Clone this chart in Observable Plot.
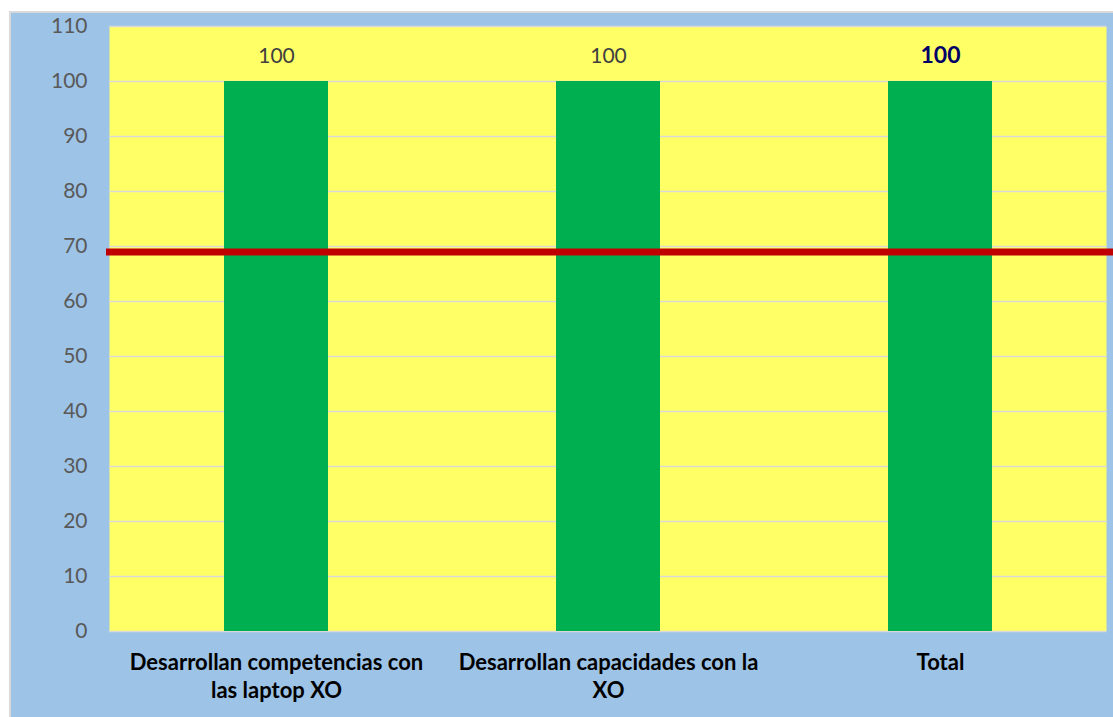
<!DOCTYPE html>
<html>
<head>
<meta charset="utf-8">
<script src="https://cdn.jsdelivr.net/npm/d3@7"></script>
<script src="https://cdn.jsdelivr.net/npm/@observablehq/plot@0.6"></script>
<style>
  html, body { margin: 0; padding: 0; background: #ffffff; }
  #wrap { position: relative; width: 1113px; height: 717px; overflow: hidden; }
  #bg { position: absolute; left: 9px; top: 11px; width: 1110px; height: 710px;
        background: #9dc3e6; border: 2px solid #d9d9d9; box-sizing: border-box; }
  #chart { position: absolute; left: 0; top: 0; }
</style>
</head>
<body>
<div id="wrap"><div id="bg"></div><div id="chart"></div></div>
<script>
const categories = [
  "Desarrollan competencias con las laptop XO",
  "Desarrollan capacidades con la XO",
  "Total"
];
const axisLabels = [
  "Desarrollan competencias con\nlas laptop XO",
  "Desarrollan capacidades con la\nXO",
  "Total"
];
const values = [100, 100, 100];
const referenceLine = 69;
const yTicks = [0, 10, 20, 30, 40, 50, 60, 70, 80, 90, 100, 110];

const data = categories.map((c, i) => ({category: c, value: values[i], label: axisLabels[i], idx: i}));
const labelOf = new Map(categories.map((c, i) => [c, axisLabels[i]]));

const plot = Plot.plot({
  width: 1113,
  height: 717,
  marginLeft: 109,
  marginRight: 7,
  marginTop: 26,
  marginBottom: 86,
  style: {background: "transparent", fontFamily: "Lato, 'Open Sans', sans-serif"},
  x: {domain: categories, paddingInner: 0.687, paddingOuter: 0.3435, label: null},
  y: {domain: [0, 110], ticks: yTicks, label: null},
  marks: [
    Plot.frame({fill: "#ffff66", stroke: null}),
    Plot.gridY(yTicks, {stroke: "#d9d9d9", strokeOpacity: 1, strokeWidth: 1.5}),
    Plot.barY(data, {x: "category", y: "value", fill: "#00b050"}),
    Plot.ruleY([referenceLine], {stroke: "#c00000", strokeWidth: 7, insetLeft: -3, insetRight: -8}),
    Plot.text(data.filter(d => d.idx < 2), {x: "category", y: "value", text: d => String(d.value),
      dy: -25, fontSize: 21, fill: "#404040"}),
    Plot.text(data.filter(d => d.idx === 2), {x: "category", y: "value", text: d => String(d.value),
      dy: -26, fontSize: 23, fontWeight: "bold", fill: "#000066"}),
    Plot.axisY(yTicks, {tickSize: 0, tickPadding: 22, fontSize: 21, fill: "#595959"}),
    Plot.axisX({tickSize: 0, tickPadding: 19, fontSize: 22, fontWeight: "bold", fill: "#000000",
      tickFormat: c => labelOf.get(c), lineHeight: 1.27, lineAnchor: "top"})
  ]
});
document.getElementById("chart").appendChild(plot);
</script>
</body>
</html>
